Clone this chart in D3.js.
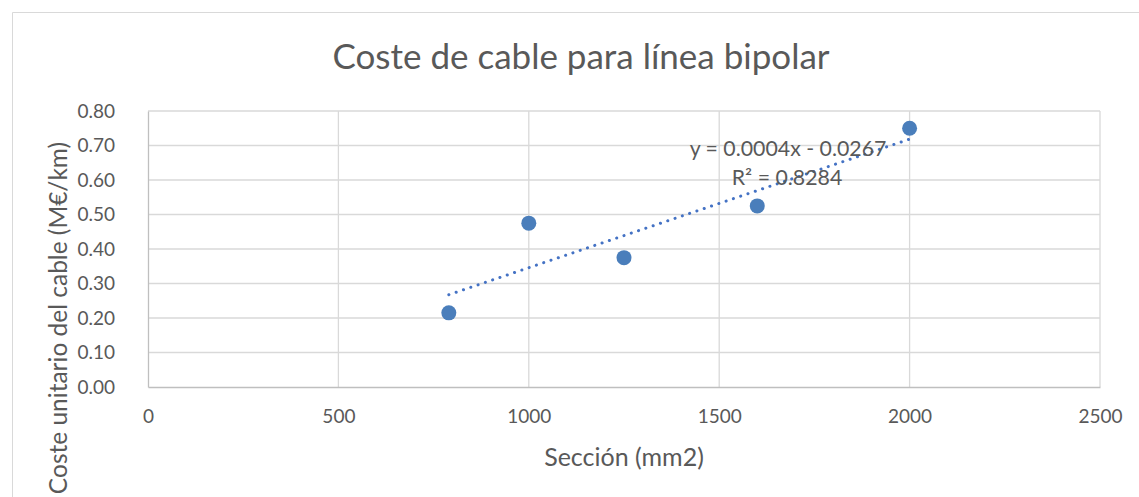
<!DOCTYPE html>
<html>
<head>
<meta charset="utf-8">
<script src="https://cdn.jsdelivr.net/npm/d3@7"></script>
<style>
  html, body { margin: 0; padding: 0; background: #fff; }
  text { font-family: Lato, "Open Sans", sans-serif; fill: #595959; }
</style>
</head>
<body>
<svg id="chart" width="1139" height="497"></svg>
<script>
// Cable section (mm2) and unit cost (M€/km)
const seccion = [790, 1000, 1250, 1600, 2000];
const coste = [0.215, 0.475, 0.375, 0.525, 0.75];
const xTicks = [0, 500, 1000, 1500, 2000, 2500];
const yTicks = [0, 0.1, 0.2, 0.3, 0.4, 0.5, 0.6, 0.7, 0.8];
const title = "Coste de cable para línea bipolar";
const xTitle = "Sección (mm2)";
const yTitle = "Coste unitario del cable (M€/km)";
const eqLabel = "y = 0.0004x - 0.0267";
const r2Label = "R² = 0.8284";

const svg = d3.select("#chart");
const W = 1139, H = 497;
const m = { left: 148, right: 1100, top: 111, bottom: 387 };

// chart frame
svg.append("path")
  .attr("d", `M12.5,${H} V12.5 H${W}`)
  .attr("fill", "none").attr("stroke", "#d9d9d9").attr("stroke-width", 1);

const x = d3.scaleLinear().domain([0, 2500]).range([m.left, m.right]);
const y = d3.scaleLinear().domain([0, 0.8]).range([m.bottom, m.top]);

// gridlines
const grid = svg.append("g");
grid.selectAll(".gx").data(xTicks.slice(1)).join("line")
  .attr("x1", d => x(d)).attr("x2", d => x(d))
  .attr("y1", m.top).attr("y2", m.bottom)
  .attr("stroke", "#d9d9d9").attr("stroke-width", 1.3);
grid.selectAll(".gy").data(yTicks.slice(1)).join("line")
  .attr("x1", m.left).attr("x2", m.right)
  .attr("y1", d => y(d)).attr("y2", d => y(d))
  .attr("stroke", "#d9d9d9").attr("stroke-width", 1.3);

// axes
const xAxis = d3.axisBottom(x).tickValues(xTicks).tickSize(0).tickPadding(23).tickFormat(d3.format("d"));
const yAxis = d3.axisLeft(y).tickValues(yTicks).tickSize(0).tickPadding(33).tickFormat(d3.format(".2f"));

const gx = svg.append("g").attr("transform", `translate(0,${m.bottom})`).call(xAxis);
const gy = svg.append("g").attr("transform", `translate(${m.left},0)`).call(yAxis);
[gx, gy].forEach(g => {
  g.select(".domain").attr("stroke", "#bfbfbf").attr("stroke-width", 1.3);
  g.selectAll("text").style("font-size", "19px").attr("fill", "#595959");
});

// title and axis titles
svg.append("text").attr("x", 581).attr("y", 69)
  .attr("text-anchor", "middle").style("font-size", "35px").text(title);
svg.append("text").attr("x", 624).attr("y", 466)
  .attr("text-anchor", "middle").style("font-size", "25px").text(xTitle);
svg.append("text").attr("transform", "translate(67,318) rotate(-90)")
  .attr("text-anchor", "middle").style("font-size", "24.5px").text(yTitle);

// linear least-squares trendline
const n = seccion.length;
const mx = d3.mean(seccion), my = d3.mean(coste);
let sxy = 0, sxx = 0;
for (let i = 0; i < n; i++) {
  sxy += (seccion[i] - mx) * (coste[i] - my);
  sxx += (seccion[i] - mx) ** 2;
}
const slope = sxy / sxx, intercept = my - slope * mx;
const [x0, x1] = d3.extent(seccion);
svg.append("line")
  .attr("x1", x(x0)).attr("y1", y(slope * x0 + intercept))
  .attr("x2", x(x1)).attr("y2", y(slope * x1 + intercept))
  .attr("stroke", "#4472c4").attr("stroke-width", 3)
  .attr("stroke-linecap", "round").attr("stroke-dasharray", "0.1 7.6");

// points
svg.append("g").selectAll("circle").data(seccion).join("circle")
  .attr("cx", d => x(d)).attr("cy", (d, i) => y(coste[i]))
  .attr("r", 7.5).attr("fill", "#4a7ebb");

// trendline equation
svg.append("text").attr("x", 788).attr("y", 156)
  .attr("text-anchor", "middle").style("font-size", "21.3px").text(eqLabel);
svg.append("text").attr("x", 787).attr("y", 185)
  .attr("text-anchor", "middle").style("font-size", "21.3px").text(r2Label);
</script>
</body>
</html>
